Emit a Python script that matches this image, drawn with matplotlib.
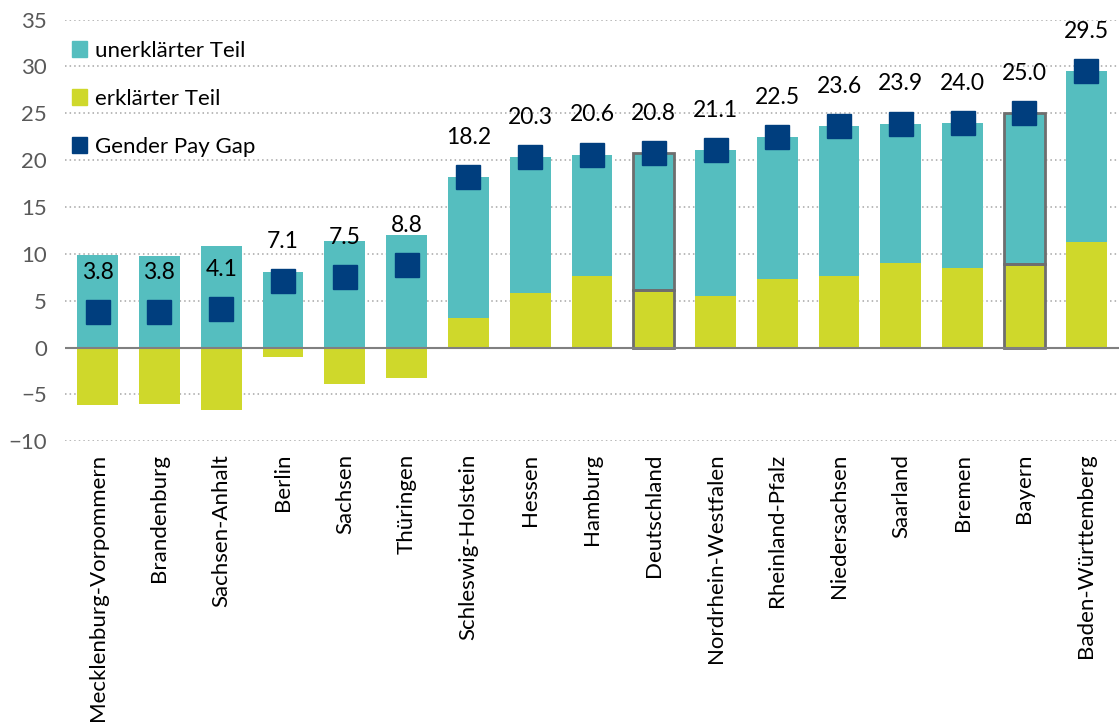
import matplotlib.pyplot as plt
import numpy as np
from matplotlib.patches import Patch

plt.rcParams['font.family'] = ['Lato', 'DejaVu Sans']

laender = ['Mecklenburg-Vorpommern', 'Brandenburg', 'Sachsen-Anhalt', 'Berlin',
           'Sachsen', 'Thüringen', 'Schleswig-Holstein', 'Hessen', 'Hamburg',
           'Deutschland', 'Nordrhein-Westfalen', 'Rheinland-Pfalz', 'Niedersachsen',
           'Saarland', 'Bremen', 'Bayern', 'Baden-Württemberg']
erklaert = [-6.1, -6.0, -6.7, -1.0, -3.9, -3.2, 3.2, 5.8, 7.6,
            6.1, 5.5, 7.3, 7.6, 9.0, 8.5, 8.9, 11.3]
unerklaert = [9.9, 9.8, 10.8, 8.1, 11.4, 12.0, 15.0, 14.5, 13.0,
              14.7, 15.6, 15.2, 16.0, 14.9, 15.5, 16.1, 18.2]
gpg = [3.8, 3.8, 4.1, 7.1, 7.5, 8.8, 18.2, 20.3, 20.6,
       20.8, 21.1, 22.5, 23.6, 23.9, 24.0, 25.0, 29.5]
hervorgehoben = ['Deutschland', 'Bayern']

teal = '#55BEBF'
lime = '#CFD82B'
navy = '#003E7E'

fig = plt.figure(figsize=(11.19, 7.27), dpi=100)
ax = fig.add_axes([0.058, 0.393, 0.942, 0.58])

x = np.arange(len(laender))
w = 0.66
# unerklaerter Teil startet auf dem positiven erklaerten Teil, sonst bei 0
basis = [max(e, 0) for e in erklaert]
ax.bar(x, erklaert, w, color=lime, zorder=2)
ax.bar(x, unerklaert, w, bottom=basis, color=teal, zorder=2)

for i, name in enumerate(laender):
    if name in hervorgehoben:
        ax.bar(i, erklaert[i], w, fill=False, edgecolor='#6E6E6E', lw=2, zorder=3)
        ax.bar(i, unerklaert[i], w, bottom=basis[i], fill=False,
               edgecolor='#6E6E6E', lw=2, zorder=3)

ax.plot(x, gpg, 's', color=navy, ms=17, zorder=4)
for i, v in enumerate(gpg):
    ax.annotate(f'{v:.1f}', (i, v), xytext=(0, 21), textcoords='offset points',
                ha='center', va='bottom', fontsize=16.5, color='black', zorder=5)

ax.set_ylim(-10, 35)
ax.set_xlim(-0.53, len(laender) - 0.47)
ax.set_yticks(range(-10, 36, 5))
ax.yaxis.grid(True, linestyle=(0, (1, 2)), color='#A6A6A6', lw=1.1, zorder=0)
ax.axhline(0, color='#808080', lw=1.5, zorder=3)
for s in ax.spines.values():
    s.set_visible(False)
ax.tick_params(axis='y', length=0, labelsize=16, labelcolor='#595959', pad=13)
ax.tick_params(axis='x', length=0, labelsize=16, pad=9)
ax.set_xticks(x)
ax.set_xticklabels(laender, rotation=90, va='top')

handles = [Patch(color=teal), Patch(color=lime), Patch(color=navy)]
ax.legend(handles, ['unerklärter Teil', 'erklärter Teil', 'Gender Pay Gap'],
          loc='upper left', bbox_to_anchor=(0.0, 0.965), frameon=False,
          borderpad=0, borderaxespad=0.3,
          fontsize=16, handlelength=0.7, handleheight=0.7, handletextpad=0.35,
          labelspacing=1.25)

fig.savefig('out.png', dpi=100)
